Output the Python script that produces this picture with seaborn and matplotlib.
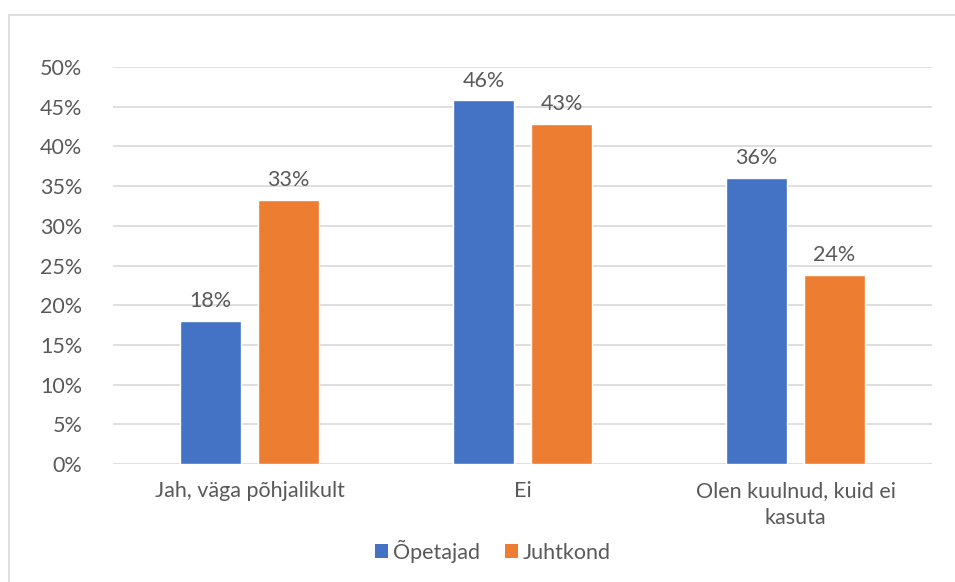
import matplotlib
matplotlib.use("Agg")
import matplotlib.pyplot as plt
import seaborn as sns
import pandas as pd
from matplotlib.patches import Rectangle, Patch

categories = ["Jah, väga põhjalikult", "Ei", "Olen kuulnud, kuid ei\nkasuta"]
series = ["Õpetajad", "Juhtkond"]
opetajad = [0.180, 0.458, 0.360]
juhtkond = [0.333, 0.428, 0.238]
yticks = [0, 0.05, 0.10, 0.15, 0.20, 0.25, 0.30, 0.35, 0.40, 0.45, 0.50]
colors = ["#4472C4", "#ED7D31"]

df = pd.DataFrame({
    "cat": categories * 2,
    "series": [series[0]] * 3 + [series[1]] * 3,
    "val": opetajad + juhtkond,
})

sns.set_theme(style="white")
plt.rcParams["font.family"] = ["Lato", "DejaVu Sans"]
txt = "#595959"
fs = 15.5

fig = plt.figure(figsize=(9.55, 5.82), dpi=100)
ax = fig.add_axes([113 / 955, 1 - 464 / 582, (932 - 113) / 955, (464 - 67) / 582])

sns.barplot(data=df, x="cat", y="val", hue="series", palette=colors,
            width=0.571, gap=0.218, ax=ax, legend=False, saturation=1)

ax.set_ylim(0, 0.5)
ax.set_xlim(-0.5, 2.5)
ax.set_yticks(yticks)
ax.set_yticklabels([f"{int(round(t*100))}%" for t in yticks], color=txt, fontsize=fs)
ax.tick_params(axis="y", length=0, pad=22)
ax.tick_params(axis="x", length=0, pad=12, labelsize=fs, labelcolor=txt)
ax.set_xlabel("")
ax.set_ylabel("")
for s in ax.spines.values():
    s.set_visible(False)
ax.grid(axis="y", color="#d9d9d9", linewidth=1.2)
ax.set_axisbelow(True)
for lab in ax.get_xticklabels():
    lab.set_linespacing(1.45)

for cont in ax.containers:
    ax.bar_label(cont, labels=[f"{v*100:.0f}%" for v in cont.datavalues],
                 padding=7, color=txt, fontsize=fs)

handles = [Patch(facecolor=c, edgecolor="none") for c in colors]
fig.legend(handles, series, loc="center", bbox_to_anchor=(493 / 955, 1 - 551 / 582),
           ncol=2, frameon=False, fontsize=fs, labelcolor=txt,
           handlelength=0.6, handleheight=0.6, handletextpad=0.2, columnspacing=1.2)

fig.patches.append(Rectangle((9 / 955, -0.02), 1.02, 1 - 14.5 / 582 + 0.02,
                             transform=fig.transFigure, fill=False,
                             edgecolor="#d9d9d9", linewidth=1.2))

fig.savefig("out.png", dpi=100)
